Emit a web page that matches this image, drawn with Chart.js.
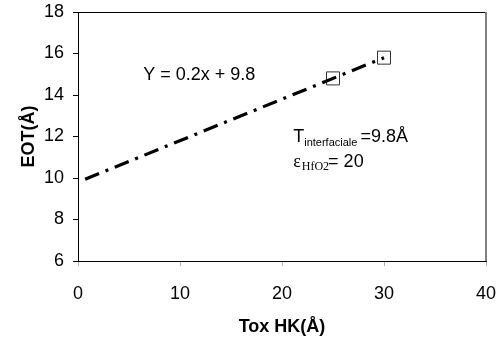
<!DOCTYPE html>
<html>
<head>
<meta charset="utf-8">
<script src="https://cdn.jsdelivr.net/npm/chart.js@4/dist/chart.umd.min.js"></script>
<style>
  body { margin: 0; background: #fff; }
  #wrap { width: 502px; height: 345px; }
</style>
</head>
<body>
<div id="wrap"><canvas id="eotChart"></canvas></div>
<script>
// measured points (Tox HK, EOT)
const toxHK = [25, 30];
const eot = [14.8, 15.8];

// linear fit Y = 0.2x + 9.8, drawn between its two ends
const fitX = [0.7, 30];
const fitY = [9.94, 15.8];

const xTicks = [0, 10, 20, 30, 40];
const yTicks = [6, 8, 10, 12, 14, 16, 18];

const FONT = "'Liberation Sans', Arial, sans-serif";
const SERIF = "'Liberation Serif', 'Times New Roman', serif";

// frame on top/right + text notes placed in data coordinates
const notes = {
  id: 'notes',
  afterDraw(chart) {
    const { ctx, chartArea: a, scales: { x, y } } = chart;
    ctx.save();
    ctx.strokeStyle = '#000';
    ctx.lineWidth = 1;
    ctx.beginPath();
    ctx.moveTo(a.left, a.top + 0.5);
    ctx.lineTo(a.right, a.top + 0.5);
    ctx.stroke();
    ctx.strokeStyle = '#808080';
    ctx.lineWidth = 2;
    ctx.beginPath();
    ctx.moveTo(a.right, a.top);
    ctx.lineTo(a.right, a.bottom);
    ctx.stroke();

    ctx.fillStyle = '#000';
    ctx.textBaseline = 'alphabetic';
    ctx.textAlign = 'left';

    ctx.font = '18px ' + FONT;
    ctx.fillText('Y = 0.2x + 9.8', x.getPixelForValue(6.4), y.getPixelForValue(14.72));

    // T_interfaciale =9.8Å
    let px = x.getPixelForValue(21.1);
    let py = y.getPixelForValue(11.73);
    ctx.font = '18px ' + FONT;
    ctx.fillText('T', px, py);
    px += ctx.measureText('T').width;
    ctx.font = '11px ' + FONT;
    ctx.fillText('interfaciale', px, py + 3.5);
    px += ctx.measureText('interfaciale ').width;
    ctx.font = '18px ' + FONT;
    ctx.fillText('=9.8Å', px, py);

    // ε_HfO2= 20
    px = x.getPixelForValue(21.1);
    py = y.getPixelForValue(10.53);
    ctx.font = '18px ' + SERIF;
    ctx.fillText('ε', px, py);
    px += ctx.measureText('ε').width + 1;
    ctx.font = '12px ' + SERIF;
    ctx.fillText('HfO2', px, py + 3);
    px += ctx.measureText('HfO2').width - 1;
    ctx.font = '18px ' + FONT;
    ctx.fillText('= 20', px, py);
    ctx.restore();
  }
};

new Chart(document.getElementById('eotChart'), {
  type: 'scatter',
  data: {
    datasets: [
      {
        label: 'fit',
        type: 'line',
        data: fitX.map((v, i) => ({ x: v, y: fitY[i] })),
        borderColor: '#000',
        borderWidth: 3.2,
        borderDash: [15, 7, 3, 7],
        pointRadius: 0,
        fill: false
      },
      {
        label: 'EOT',
        data: toxHK.map((v, i) => ({ x: v, y: eot[i] })),
        pointStyle: 'rect',
        pointRadius: 9.2,
        pointBorderColor: '#333',
        pointBorderWidth: 1,
        pointBackgroundColor: 'rgba(0,0,0,0)',
        showLine: false
      }
    ]
  },
  options: {
    responsive: true,
    maintainAspectRatio: false,
    animation: false,
    layout: { padding: { top: 12, right: 16, left: 0, bottom: 0 } },
    plugins: { legend: { display: false }, tooltip: { enabled: false } },
    scales: {
      x: {
        type: 'linear',
        min: xTicks[0],
        max: xTicks[xTicks.length - 1],
        afterBuildTicks: s => { s.ticks = xTicks.map(v => ({ value: v })); },
        afterFit: s => { s.height = 84; s.paddingLeft = 0; s.paddingRight = 0; },
        grid: { drawOnChartArea: false, drawTicks: true, tickLength: 5, color: '#b0b0b0' },
        border: { color: '#000', width: 1 },
        ticks: { color: '#000', padding: 17, font: { family: FONT, size: 18 } },
        title: {
          display: true,
          text: 'Tox HK(Å)',
          color: '#000',
          padding: { bottom: 7 },
          font: { family: FONT, size: 18, weight: 'bold' }
        }
      },
      y: {
        type: 'linear',
        min: yTicks[0],
        max: yTicks[yTicks.length - 1],
        afterBuildTicks: s => { s.ticks = yTicks.map(v => ({ value: v })); },
        afterFit: s => { s.width = 78; s.paddingTop = 0; s.paddingBottom = 0; },
        grid: { drawOnChartArea: false, drawTicks: true, tickLength: 5, color: '#000' },
        border: { color: '#000', width: 1 },
        ticks: { color: '#000', padding: 9, font: { family: FONT, size: 18 } },
        title: {
          display: true,
          text: 'EOT(Å)',
          color: '#000',
          padding: { top: 18 },
          font: { family: FONT, size: 18, weight: 'bold' }
        }
      }
    }
  },
  plugins: [notes]
});
</script>
</body>
</html>
